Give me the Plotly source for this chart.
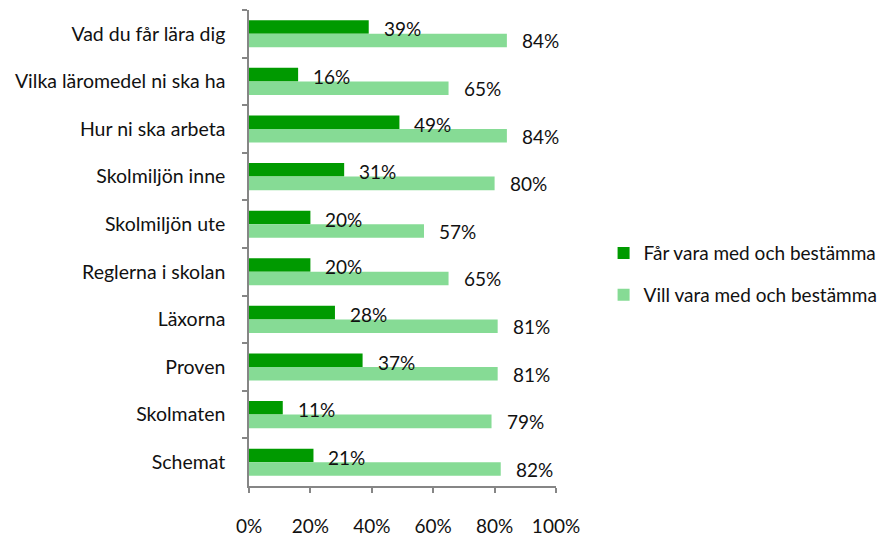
import plotly.graph_objects as go

categories = ["Vad du får lära dig", "Vilka läromedel ni ska ha", "Hur ni ska arbeta",
              "Skolmiljön inne", "Skolmiljön ute", "Reglerna i skolan", "Läxorna",
              "Proven", "Skolmaten", "Schemat"]
far_vara = [39, 16, 49, 31, 20, 20, 28, 37, 11, 21]
vill_vara = [84, 65, 84, 80, 57, 65, 81, 81, 79, 82]
series_names = ["Får vara med och bestämma", "Vill vara med och bestämma"]
x_ticks = [0, 20, 40, 60, 80, 100]

FONT = "Lato"
FS = 19
dark = "#009A00"
light = "#86DB95"

fig = go.Figure()
fig.add_trace(go.Bar(y=categories, x=far_vara, orientation="h", name=series_names[0],
                     marker=dict(color=dark, line=dict(width=0)), legendgroup="a"))
fig.add_trace(go.Bar(y=categories, x=vill_vara, orientation="h", name=series_names[1],
                     marker=dict(color=light, line=dict(width=0)), legendgroup="b"))

annotations = []
for vals, ys in ((far_vara, 5), (vill_vara, -7)):
    for c, v in zip(categories, vals):
        annotations.append(dict(x=v, y=c, xref="x", yref="y", text=f"{v}%", showarrow=False,
                                xanchor="left", yanchor="middle", xshift=13, yshift=ys,
                                font=dict(family=FONT, size=FS, color="#111")))

fig.update_layout(
    width=895, height=536,
    margin=dict(l=241, r=347, t=2, b=58),
    barmode="group", bargap=0.43, bargroupgap=0,
    plot_bgcolor="white", paper_bgcolor="white",
    font=dict(family=FONT, size=FS, color="#111"),
    annotations=annotations,
    legend=dict(x=1.155, y=0.445, xanchor="left", yanchor="middle", traceorder="grouped",
                tracegroupgap=14, font=dict(family=FONT, size=FS, color="#111"),
                itemwidth=30),
    xaxis=dict(range=[0, 100], tickvals=x_ticks, ticktext=[f"{t}%" for t in x_ticks],
               showgrid=False, zeroline=False, showline=True, linecolor="#868686", linewidth=1.5,
               ticks="outside", ticklen=5, tickcolor="#868686", tickwidth=1.5,
               ticklabelstandoff=17, tickfont=dict(family=FONT, size=FS, color="#111")),
    yaxis=dict(autorange="reversed", showgrid=False, zeroline=False, showline=True,
               linecolor="#868686", linewidth=1.5, ticks="outside", ticklen=5,
               tickcolor="#868686", tickwidth=1.5, tickson="boundaries",
               ticklabelstandoff=18, tickfont=dict(family=FONT, size=19.5, color="#111")),
)

fig.write_html("out.html")
